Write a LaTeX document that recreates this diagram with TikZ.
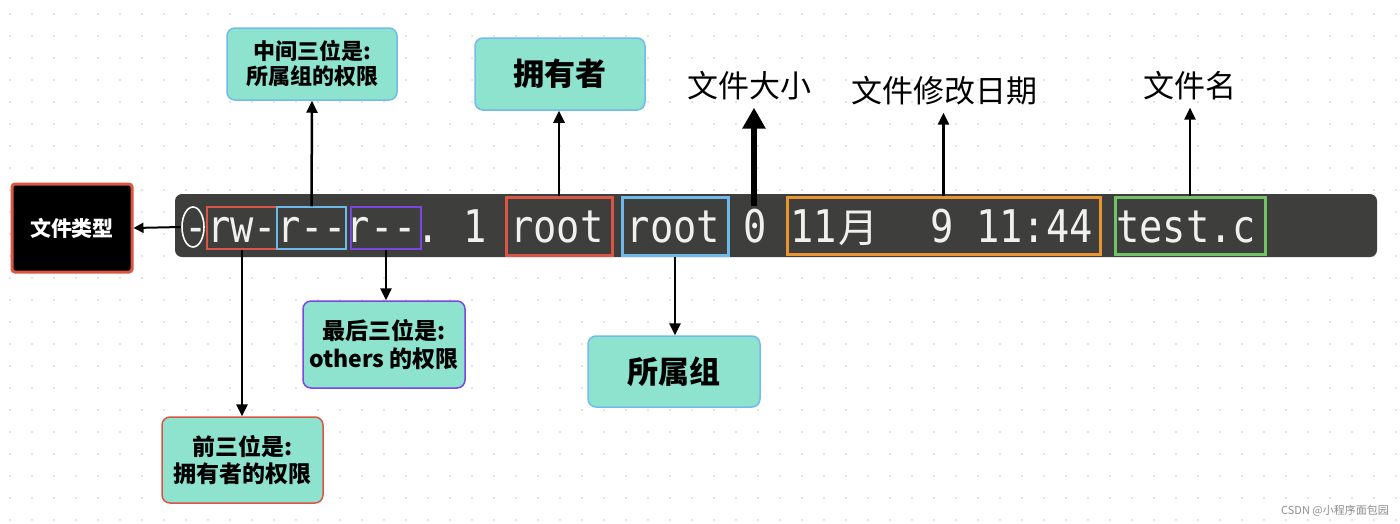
\documentclass[tikz,border=0pt]{standalone}
\usepackage{fontspec}
\usepackage{graphicx}
\usetikzlibrary{arrows.meta,shapes.geometric}
\newfontfamily\cjk{Noto Sans CJK SC}
\setmonofont{DejaVu Sans Mono}
\definecolor{dotc}{HTML}{C9C9C9}
\definecolor{barc}{HTML}{3E3F3C}
\definecolor{termtxt}{HTML}{F0F0EC}
\definecolor{tealc}{HTML}{8EE3CF}
\definecolor{lblue}{HTML}{74BBEB}
\definecolor{redc}{HTML}{DA5544}
\definecolor{bluec}{HTML}{6CB9EA}
\definecolor{purc}{HTML}{7B45E2}
\definecolor{orac}{HTML}{E8952F}
\definecolor{grnc}{HTML}{72C266}
\begin{document}
\begin{tikzpicture}[x=1pt,y=-1pt,
  tok/.style={anchor=base west, inner sep=0, text=termtxt, font=\ttfamily\fontsize{45}{45}\selectfont},
  hl/.style={draw=#1, line width=1.5pt, inner sep=0},
  hlb/.style={draw=#1, line width=3pt, inner sep=0},
  tbox/.style={fill=tealc, draw=#1, line width=1.5pt, rounded corners=8pt, align=center, inner sep=0,
     font=\cjk\bfseries\fontsize{22}{25}\selectfont},
  plain/.style={inner xsep=0, inner ysep=7pt, font=\cjk\fontsize{31}{31}\selectfont},
  arr/.style={line width=2.5pt, -{Triangle[length=12pt,width=11pt]}},
  bigarr/.style={line width=5.5pt, -{Triangle[length=21pt,width=22pt]}}]
\useasboundingbox (0,0) rectangle (1400,523);
\fill[white] (0,0) rectangle (1400,523);
% dotted grid
\foreach \i in {0,...,63}{\foreach \j in {0,...,23}{\fill[dotc] (10+22*\i,14+22*\j) circle (0.9pt);}}
% terminal bar
\node[fill=barc, rounded corners=7pt, minimum width=1202, minimum height=63, inner sep=0] (bar) at (776,225.5) {};
% terminal text
\node[tok] (t0) at (184,242) {\scalebox{0.86}[1]{-}};
\node[tok] (t1) at (207,242) {\scalebox{0.86}[1]{rw-r--r--.}};
\node[tok] (t2) at (463.6,242) {\scalebox{0.86}[1]{1}};
\node[tok] (t3) at (510,242) {\scalebox{0.86}[1]{root}};
\node[tok] (t4) at (626.7,242) {\scalebox{0.86}[1]{root}};
\node[tok] (t5) at (743,242) {\scalebox{0.86}[1]{0}};
\node[tok] (t6) at (790,242) {\scalebox{0.86}[1]{11}};
\node[tok, font=\cjk\fontsize{40}{40}\selectfont] (t7) at (838,242) {月};
\node[tok] (t8) at (930,242) {\scalebox{0.86}[1]{9}};
\node[tok] (t9) at (976,242) {\scalebox{0.86}[1]{11:44}};
\node[tok] (t10) at (1116,242) {\scalebox{0.86}[1]{test.c}};
% highlight boxes
\node[ellipse, draw=white, line width=1.6pt, minimum width=22, minimum height=40, inner sep=0] (dsh) at (193,227) {};
\node[hl=redc, minimum width=70, minimum height=42] (brw) at (242,228) {};
\node[hl=bluec, minimum width=69, minimum height=42] (bgr) at (311.5,228) {};
\node[hl=purc, minimum width=70, minimum height=42] (bot) at (386,228) {};
\node[hlb=redc, minimum width=106, minimum height=58] (bown) at (559,226) {};
\node[hlb=bluec, minimum width=106, minimum height=58] (bgrp) at (675,226) {};
\node[hlb=orac, minimum width=313, minimum height=57] (bdate) at (943.5,225.5) {};
\node[hlb=grnc, minimum width=150, minimum height=57] (bname) at (1190,225.5) {};
\coordinate (z0) at (754,206);
% label boxes
\node[fill=black, draw=redc, line width=3pt, rounded corners=3pt, minimum width=120, minimum height=88, inner sep=0,
      text=white, font=\cjk\bfseries\fontsize{21}{21}\selectfont] (typ) at (72,228) {文件类型};
\node[tbox=lblue, minimum width=170, minimum height=72] (mid) at (312,64) {中间三位是:\\所属组的权限};
\node[tbox=lblue, minimum width=170, minimum height=72, font=\cjk\bfseries\fontsize{31}{31}\selectfont] (own) at (560,74) {拥有者};
\node[tbox=purc, minimum width=162, minimum height=87, font=\cjk\bfseries\fontsize{23}{28}\selectfont] (oth) at (384,344.5) {最后三位是:\\others 的权限};
\node[tbox=redc, minimum width=161, minimum height=86, font=\cjk\bfseries\fontsize{23}{27}\selectfont] (fst) at (242.5,460) {前三位是:\\拥有者的权限};
\node[tbox=lblue, minimum width=172, minimum height=71, font=\cjk\bfseries\fontsize{31}{31}\selectfont] (grp) at (674,371.5) {所属组};
% plain labels
\node[plain] (sz) at (749,86) {文件大小};
\node[plain] (date) at (944,91) {文件修改日期};
\node[plain] (name) at (1190,86) {文件名};
% connectors
\draw[line width=2pt, -{Triangle[length=10pt,width=10pt]}] (dsh.west) -- (typ.east);
\draw[arr] (bgr.north) -- (mid.south);
\draw[arr] (bown.north) -- (bown.north |- own.south);
\draw[bigarr] (z0) -- (z0 |- sz.south);
\draw[arr] (bdate.north) -- (bdate.north |- date.south);
\draw[arr] (bname.north) -- (bname.north |- name.south);
\draw[arr] (brw.south) -- (brw.south |- fst.north);
\draw[arr] (bot.south) -- (bot.south |- oth.north);
\draw[arr] (bgrp.south) -- (bgrp.south |- grp.north);
% watermark
\node[inner sep=0, text=black!45, font=\cjk\fontsize{11}{11}\selectfont] (wm) at (1335,511) {CSDN @小程序面包园};
\end{tikzpicture}
\end{document}
